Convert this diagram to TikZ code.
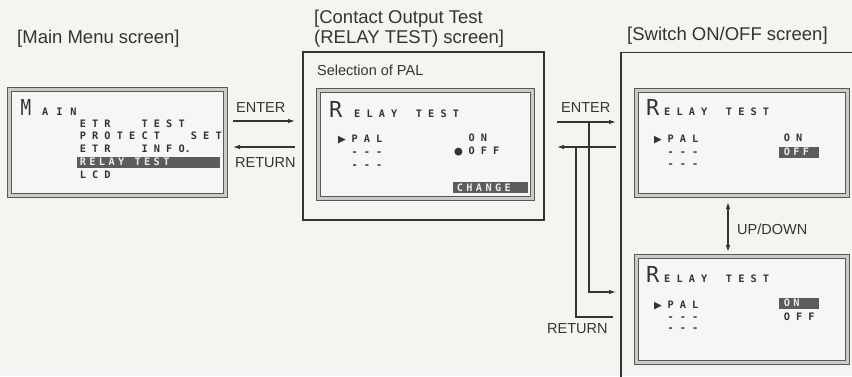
\documentclass[tikz,border=0pt]{standalone}
\usepackage{fontspec}
\setmainfont{Liberation Sans}
\newfontfamily\lcdfont{DejaVu Sans Mono}
\usetikzlibrary{positioning,arrows.meta}
\definecolor{paper}{RGB}{243,245,241}
\definecolor{ink}{RGB}{52,52,52}
\definecolor{lcdbg}{RGB}{246,247,244}
\definecolor{band}{RGB}{202,203,200}
\definecolor{hilite}{RGB}{92,92,92}

\begin{document}
\begin{tikzpicture}[x=1pt, y=-1pt,
    title/.style={font=\fontsize{18.5}{20}\selectfont, text=ink, inner sep=0, anchor=base west},
    keylbl/.style={font=\fontsize{14.5}{16}\selectfont, text=ink, inner sep=0, anchor=base west},
    frame/.style={draw=ink, line width=1.3pt, inner sep=0},
    lcd/.style={draw=black!65, double=band, line width=0.9pt, double distance=3.2pt, fill=lcdbg, inner sep=0},
    lcdtxt/.style={font=\fontsize{10.25}{12}\lcdfont\bfseries, text=black!80, inner sep=0, anchor=base west},
    lcdsym/.style={font=\fontsize{13}{13}\lcdfont, text=black!80, inner sep=0, anchor=base west},
    bigch/.style={font=\fontsize{22}{22}\lcdfont, text=black!80, inner sep=0, anchor=base west},
    hl/.style={lcdtxt, fill=hilite, text=black!8, text height=8.5pt, text depth=1.5pt, inner ysep=0.5pt, align=left},
    flow/.style={draw=ink, line width=1.1pt, -{Latex[length=7pt,width=4.5pt]}},
    dflow/.style={draw=ink, line width=1.1pt, {Latex[length=7pt,width=4.5pt]}-{Latex[length=7pt,width=4.5pt]}},
    wire/.style={draw=ink, line width=1.1pt}]
    \useasboundingbox (0,0) rectangle (852,376);
    \fill[paper] (0,0) rectangle (852,376);

    % Main menu screen
    \node[title] (tmain) at (17,43) {[Main Menu screen]};
    \node[lcd, minimum width=216pt, minimum height=106pt] (mainlcd) at (117.5,142.5) {};
    \node[bigch] (mainM) at (20.5,115) {\scalebox{0.8}[1]{M}};
    \node[lcdtxt] (mainhead) at (41.9,115) {A\hspace{8pt}I\hspace{8pt}N};
    \node[lcdtxt] (m1) at (79.6,127) {E T R~~~~~T E S T};
    \node[lcdtxt] (m2) at (79.6,139.5) {P R O T E C T~~~~~S E T};
    \node[lcdtxt] (m3) at (79.6,152) {E T R~~~~~I N F O.};
    \node[hl, inner xsep=2.6pt, text width=137.8pt] (m4) at (77,165.5) {R E L A Y~~~T E S T};
    \node[lcdtxt] (m5) at (79.6,178) {L C D};

    % Contact output test screen
    \node[title] (tcont) at (314,23) {[Contact Output Test};
    \node[title] (tcont2) at (314,43.5) {(RELAY TEST) screen]};
    \node[frame, minimum width=241pt, minimum height=168pt] (midframe) at (423.5,136) {};
    \node[keylbl] (sel) at (317,75) {Selection of PAL};
    \node[lcd, minimum width=214pt, minimum height=108pt] (midlcd) at (425.5,144.5) {};
    \node[bigch] (midR) at (329,117) {R};
    \node[lcdtxt] (midhead) at (354,117) {E L A Y~~~T E S T};
    \node[lcdsym] (midptr) at (338,143) {▶};
    \node[lcdtxt] (midpal) at (351.3,142) {P A L};
    \node[lcdtxt] (middash1) at (351.3,155) {- - -};
    \node[lcdtxt] (middash2) at (351.3,168) {- - -};
    \node[lcdtxt] (midon) at (468.3,141) {O N};
    \node[lcdsym] (middot) at (454.5,155.5) {●};
    \node[lcdtxt] (midoff) at (468.3,154.5) {O F F};
    \node[hl, inner xsep=3.6pt, text width=67.8pt] (midchg) at (453,191.2) {C H A N G E};

    % Switch ON/OFF screen
    \node[title] (tswitch) at (627,40) {[Switch ON/OFF screen]};
    \node[frame, minimum width=250pt, minimum height=337pt] (rightframe) at (746,221) {};
    \node[lcd, minimum width=211pt, minimum height=105pt] (uplcd) at (742,143) {};
    \node[bigch] (upR) at (646,115) {R};
    \node[lcdtxt] (uphead) at (664,115) {E L A Y~~~T E S T};
    \node[lcdsym] (upptr) at (654,143) {▶};
    \node[lcdtxt] (uppal) at (667.3,142) {P A L};
    \node[lcdtxt] (updash1) at (667.3,155) {- - -};
    \node[lcdtxt] (updash2) at (667.3,167) {- - -};
    \node[lcdtxt] (upon) at (783.6,141) {O N};
    \node[hl, inner xsep=4.6pt, text width=30.8pt] (upoff) at (779,155.5) {O F F};

    \node[lcd, minimum width=211pt, minimum height=106pt] (lowlcd) at (742,309.5) {};
    \node[bigch] (lowR) at (646,282) {R};
    \node[lcdtxt] (lowhead) at (664,282) {E L A Y~~~T E S T};
    \node[lcdsym] (lowptr) at (654,309) {▶};
    \node[lcdtxt] (lowpal) at (667.3,308) {P A L};
    \node[lcdtxt] (lowdash1) at (667.3,320) {- - -};
    \node[lcdtxt] (lowdash2) at (667.3,331) {- - -};
    \node[hl, inner xsep=4.6pt, text width=30.8pt] (lowon) at (779,306.5) {O N};
    \node[lcdtxt] (lowoff) at (783.6,320) {O F F};

    % Key labels
    \node[keylbl] (lenter) at (236,112) {ENTER};
    \node[keylbl] (lreturn) at (235,167) {RETURN};
    \node[keylbl] (renter) at (561,112) {ENTER};
    \node[keylbl] (rreturn) at (547,333) {RETURN};
    \node[keylbl] (updown) at (737,234) {UP/DOWN};

    % Arrows
    \coordinate (enL) at (233,121);
    \coordinate (enR) at (295,121);
    \coordinate (reL) at (233,147);
    \coordinate (reR) at (295,147);
    \coordinate (en2L) at (557,122);
    \coordinate (en2R) at (616,122);
    \coordinate (en2fork) at (589,122);
    \coordinate (en2low) at (616,292);
    \coordinate (re2L) at (557,147);
    \coordinate (re2R) at (616,147);
    \coordinate (re2fork) at (576,147);
    \coordinate (re2low) at (613,317);
    \coordinate (udtop) at (728,202);
    \coordinate (udbot) at (728,252);

    \draw[flow] (enL) -- (enR);
    \draw[flow] (reR) -- (reL);
    \draw[flow] (en2L) -- (en2R);
    \draw[flow] (en2fork) |- (en2low);
    \draw[flow] (re2R) -- (re2L);
    \draw[wire] (re2low) -| (re2fork);
    \draw[dflow] (udtop) -- (udbot);
\end{tikzpicture}
\end{document}
